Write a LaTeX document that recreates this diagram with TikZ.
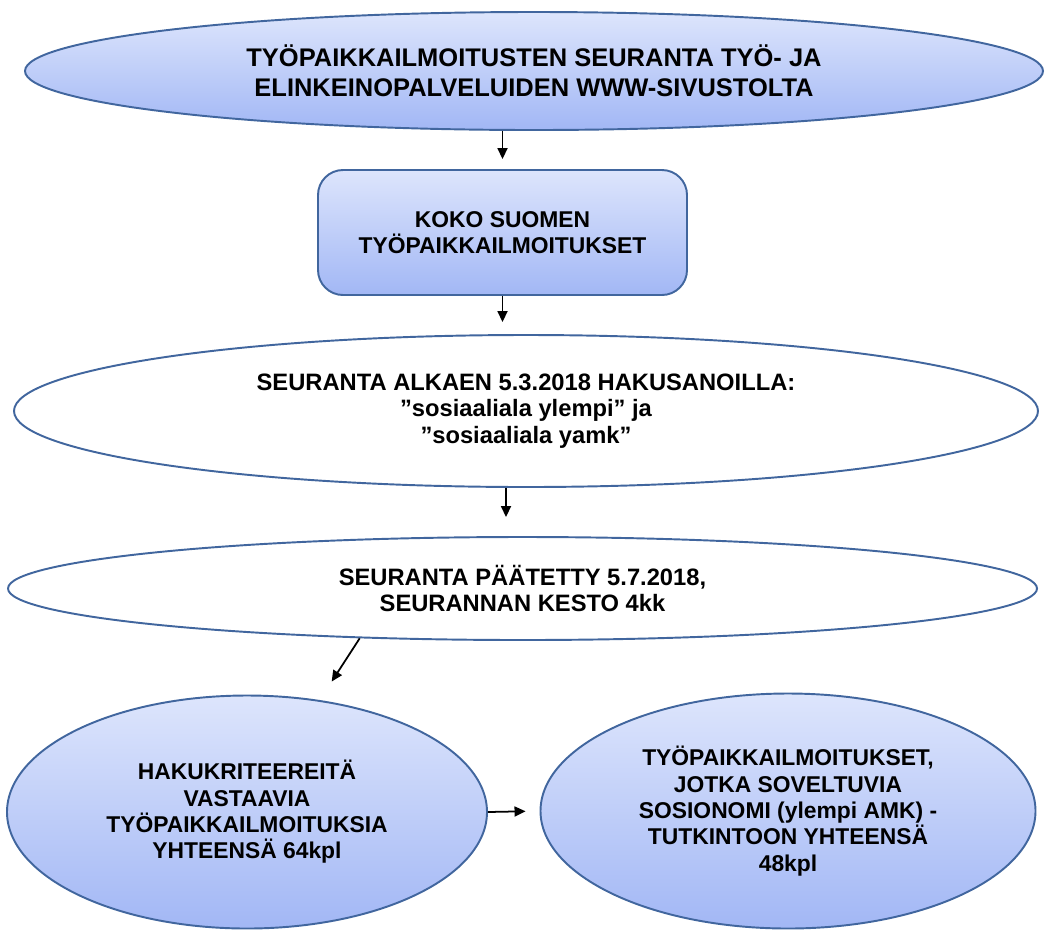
\documentclass[tikz,border=0pt]{standalone}
\usepackage{fontspec}
\setmainfont{Liberation Sans}
\usetikzlibrary{shapes.geometric,arrows.meta}
\definecolor{edgeblue}{HTML}{41669E}
\definecolor{filltop}{HTML}{DDE5FC}
\definecolor{fillbot}{HTML}{A2B7F5}
\tikzset{
  txt/.style={font=\fontsize{13}{15}\selectfont\bfseries, align=center, inner sep=0pt},
  bigtxt/.style={font=\fontsize{14.5}{17}\selectfont\bfseries},
  midtxt/.style={font=\fontsize{13.5}{15}\selectfont\bfseries},
  blueoval/.style={txt, ellipse, draw=edgeblue, line width=1.1pt, top color=filltop, bottom color=fillbot},
  whiteoval/.style={txt, midtxt, ellipse, draw=edgeblue, line width=1.1pt, fill=white},
  bluebox/.style={txt, rectangle, rounded corners=0.5cm, draw=edgeblue, line width=1.1pt, top color=filltop, bottom color=fillbot},
  arr/.style={-{Triangle[length=2.2mm,width=2mm]}, line width=1pt, black}
}
\begin{document}
\begin{tikzpicture}
\useasboundingbox (0,0) rectangle (21.02,-18.58);

\node[blueoval, bigtxt, minimum width=20.36cm, minimum height=2.36cm] (top) at (10.68,-1.42)
  {TYÖPAIKKAILMOITUSTEN SEURANTA TYÖ- JA\\ELINKEINOPALVELUIDEN WWW-SIVUSTOLTA};
\node[bluebox, minimum width=7.38cm, minimum height=2.5cm] (box) at (10.05,-4.65)
  {KOKO SUOMEN\\TYÖPAIKKAILMOITUKSET};
\node[whiteoval, minimum width=20.48cm, minimum height=3.04cm] (search) at (10.52,-8.22)
  {SEURANTA ALKAEN 5.3.2018 HAKUSANOILLA:\\”sosiaaliala ylempi” ja\\”sosiaaliala yamk”};
\node[whiteoval, minimum width=20.58cm, minimum height=2.06cm] (stop) at (10.45,-11.77)
  {SEURANTA PÄÄTETTY 5.7.2018,\\SEURANNAN KESTO 4kk};
\node[blueoval, minimum width=9.6cm, minimum height=4.66cm] (hits) at (4.94,-16.24)
  {HAKUKRITEEREITÄ\\VASTAAVIA\\TYÖPAIKKAILMOITUKSIA\\YHTEENSÄ 64kpl};
\node[blueoval, minimum width=9.9cm, minimum height=4.7cm] (suited) at (15.76,-16.22)
  {TYÖPAIKKAILMOITUKSET,\\JOTKA SOVELTUVIA\\SOSIONOMI (ylempi AMK) -\\TUTKINTOON YHTEENSÄ\\48kpl};

\draw[arr, shorten >=0.2cm] (top.south -| box.north) -- (box.north);
\draw[arr, shorten >=0.24cm] (box.south) -- (box.south |- search.north);
\draw[arr, shorten >=0.38cm] ([xshift=-0.4cm]search.south) -- ([xshift=-0.4cm]search.south |- stop.north);
\draw[arr, shorten >=0.44cm] (stop.197.6) -- (hits.57.9);
\draw[arr, shorten >=0.28cm] (hits.east) -- (suited.west);

\end{tikzpicture}
\end{document}
